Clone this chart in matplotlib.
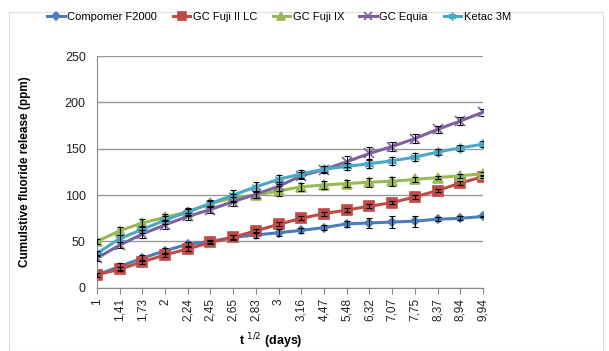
import matplotlib
matplotlib.use('Agg')
import matplotlib.pyplot as plt
import numpy as np

plt.rcParams['font.family'] = ['Liberation Sans', 'DejaVu Sans']

categories = ['1', '1,41', '1,73', '2', '2,24', '2,45', '2,65', '2,83', '3',
              '3,16', '4,47', '5,48', '6,32', '7,07', '7,75', '8,37', '8,94', '9,94']

compomer = [14, 23, 32, 40, 47, 50, 54.5, 57, 59.5, 62, 65, 69, 70, 71, 72, 74, 75, 77]
compomer_err = [2, 4, 3, 3, 2, 2, 3, 3, 4, 3, 3, 3, 5, 6, 6, 2, 2, 1]

fuji2 = [14, 20, 28, 35.5, 42, 49, 54.5, 61.5, 68.5, 75, 80, 84, 88, 92, 98, 105, 113, 120]
fuji2_err = [2, 2, 2, 2, 2, 2, 2, 2, 2, 2, 2, 2, 2, 2, 2, 2, 2, 2]

fuji9 = [50, 61.5, 70, 76, 82, 91, 97, 100, 104.5, 109, 111, 112.5, 114, 115, 117, 119, 121, 123]
fuji9_err = [3, 4, 4, 4, 3, 3, 4, 3, 5, 4, 4, 4, 5, 5, 3, 2, 2, 2]

equia = [32, 46, 58, 68, 77, 84.5, 93, 101, 109.5, 121, 127.5, 136, 145, 152.5, 161, 171, 180, 189.5]
equia_err = [3, 3, 4, 5, 4, 4, 5, 4, 5, 4, 4, 6, 7, 5, 5, 4, 4, 4]

ketac = [37, 53, 63, 73, 82, 91, 100, 109, 117, 123, 128, 131, 134, 137, 141, 146.5, 151, 155]
ketac_err = [3, 4, 4, 4, 4, 4, 6, 5, 5, 4, 3, 4, 5, 4, 4, 3, 3, 3]

series = [
    ('Compomer F2000', compomer, compomer_err, '#4a7ebb', 'D', 4.5),
    ('GC Fuji II LC', fuji2, fuji2_err, '#be4b48', 's', 6.5),
    ('GC Fuji IX', fuji9, fuji9_err, '#98b954', '^', 6.5),
    ('GC Equia', equia, equia_err, '#7d60a0', 'x', 6.5),
    ('Ketac 3M', ketac, ketac_err, '#46aac5', (6, 2, 0), 7),
]

fig = plt.figure(figsize=(6.09, 3.51), dpi=100)
ax = fig.add_axes([0.159, 0.18, 0.634, 0.66])
x = np.arange(len(categories))

for name, vals, err, col, mk, ms in series:
    ax.errorbar(x, vals, yerr=err, fmt='none', ecolor='black',
                elinewidth=0.8, capsize=2.5, capthick=0.8, zorder=3)
    ax.plot(x, vals, color=col, marker=mk, markersize=ms, linewidth=2.2,
            markeredgecolor=col, markeredgewidth=1.2, label=name, zorder=2)

ax.set_xlim(0, len(categories) - 1)
ax.set_ylim(0, 250)
ax.set_yticks([0, 50, 100, 150, 200, 250])
ax.set_xticks(x)
ax.set_xticklabels(categories, rotation=90, fontsize=8.5, color='#222222')
ax.tick_params(axis='y', labelsize=9, length=0, colors='#222222', pad=8)
ax.tick_params(axis='x', length=4, color='#888888', direction='out')
ax.yaxis.grid(True, color='#999999', linewidth=1)
ax.set_axisbelow(True)
for s in ['top', 'right']:
    ax.spines[s].set_visible(False)
ax.spines['left'].set_color('#888888')
ax.spines['bottom'].set_color('#888888')

ax.set_ylabel('Cumulstive fluoride release (ppm)', fontsize=8.5, fontweight='bold', labelpad=24)
ax.set_xlabel('t $^{1/2}$ (days)', fontsize=9, fontweight='bold')
ax.xaxis.set_label_coords(0.45, -0.19)

fig.legend(loc='upper center', bbox_to_anchor=(0.458, 0.995), ncol=5, frameon=False,
           fontsize=8, handlelength=1.6, columnspacing=1.4, handletextpad=0.2,
           markerscale=0.8)

fig.patches.append(plt.Rectangle((0.015, 0.0), 0.975, 0.965, transform=fig.transFigure,
                                 fill=False, edgecolor='#dddddd', linewidth=0.8))

fig.savefig('out.png', dpi=100)
plt.close(fig)
